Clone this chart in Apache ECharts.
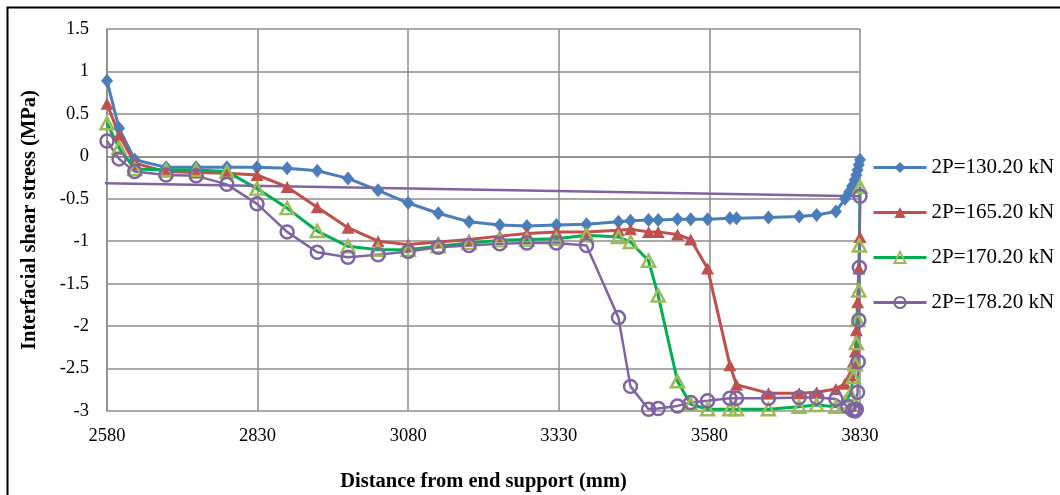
<!DOCTYPE html>
<html>
<head>
<meta charset="utf-8">
<script src="https://cdn.jsdelivr.net/npm/echarts@6/dist/echarts.min.js"></script>
<style>
html,body{margin:0;padding:0;background:#fff;}
#chart{width:1060px;height:495px;}
</style>
</head>
<body>
<div id="chart"></div>
<script>
// Shared node positions (mm) along the beam
const distance = [2580, 2600, 2626, 2678, 2728, 2779, 2829, 2879, 2929, 2980, 3030, 3080, 3130, 3181, 3232, 3277, 3326, 3376, 3429, 3449, 3479, 3495, 3527, 3549, 3577, 3614, 3625, 3678, 3729, 3758, 3790];

const p130 = [0.89, 0.33, -0.04, -0.13, -0.13, -0.13, -0.13, -0.14, -0.17, -0.26, -0.40, -0.55, -0.67, -0.77, -0.81, -0.82, -0.81, -0.80, -0.77, -0.76, -0.75, -0.75, -0.74, -0.74, -0.74, -0.73, -0.73, -0.72, -0.71, -0.69, -0.65];
const p165 = [0.62, 0.25, -0.08, -0.18, -0.19, -0.20, -0.22, -0.36, -0.60, -0.84, -1.00, -1.04, -1.01, -0.98, -0.94, -0.91, -0.89, -0.89, -0.87, -0.86, -0.89, -0.89, -0.92, -0.98, -1.32, -2.46, -2.69, -2.79, -2.79, -2.78, -2.74];
const p170 = [0.39, 0.10, -0.15, -0.16, -0.16, -0.18, -0.38, -0.61, -0.88, -1.06, -1.10, -1.10, -1.06, -1.02, -0.99, -0.98, -0.97, -0.93, -0.95, -1.01, -1.23, -1.64, -2.65, -2.92, -2.98, -2.98, -2.98, -2.98, -2.95, -2.93, -2.95];
const p178 = [0.18, -0.03, -0.18, -0.22, -0.23, -0.33, -0.56, -0.89, -1.13, -1.19, -1.16, -1.12, -1.07, -1.05, -1.03, -1.02, -1.02, -1.05, -1.90, -2.71, -2.98, -2.97, -2.94, -2.90, -2.88, -2.85, -2.85, -2.85, -2.84, -2.84, -2.86];

// Dense nodes near the loaded end
const end130x = [3805, 3812, 3817, 3821, 3824, 3826, 3828, 3830];
const end130y = [-0.50, -0.42, -0.35, -0.28, -0.22, -0.16, -0.10, -0.04];
const end165x = [3805, 3814, 3819, 3822, 3824, 3826, 3828, 3830];
const end165y = [-2.68, -2.58, -2.42, -2.30, -2.05, -1.72, -1.32, -0.95];
const end170x = [3805, 3814, 3819, 3822, 3824, 3826, 3828, 3829, 3830];
const end170y = [-2.90, -2.80, -2.60, -2.45, -2.20, -1.93, -1.58, -1.05, -0.36];
const end178x = [3810, 3818, 3822, 3824, 3826, 3827, 3828, 3829, 3830, 0];
const end178y = [-2.95, -2.99, -3.00, -2.98, -2.78, -2.42, -1.93, -1.31, -0.47, 0];

const seriesNames = ['2P=130.20 kN', '2P=165.20 kN', '2P=170.20 kN', '2P=178.20 kN'];
const xTicks = [2580, 2830, 3080, 3330, 3580, 3830];
const yTicks = [-3, -2.5, -2, -1.5, -1, -0.5, 0, 0.5, 1, 1.5];

function pairs(xs, ys, ex, ey) {
  const out = xs.map((x, i) => [x, ys[i]]);
  ex.forEach((x, i) => out.push([x, ey[i]]));
  return out;
}

const FONT = '"Liberation Serif", "Times New Roman", serif';
const chart = echarts.init(document.getElementById('chart'), null, {renderer: 'canvas'});

const gridColor = '#8c8c8c';

chart.setOption({
  animation: false,
  backgroundColor: '#ffffff',
  graphic: [{
    type: 'rect', silent: true, z: -1,
    shape: {x: 7.5, y: 7.5, width: 1070, height: 500},
    style: {fill: 'none', stroke: '#000', lineWidth: 2}
  }],
  grid: {left: 107, right: 200, top: 29, bottom: 84, containLabel: false, outerBoundsMode: 'none'},
  legend: {
    orient: 'vertical',
    left: 872, top: 157, padding: 0,
    itemWidth: 53, itemHeight: 14,
    itemGap: 24,
    lineStyle: {width: 3},
    textStyle: {fontFamily: FONT, fontSize: 21, color: '#000'},
    data: seriesNames
  },
  xAxis: {
    type: 'value', min: xTicks[0], max: xTicks[xTicks.length - 1], interval: 250,
    name: 'Distance from end support (mm)',
    nameLocation: 'middle', nameGap: 60,
    nameTextStyle: {fontFamily: FONT, fontSize: 20.5, fontWeight: 'bold', color: '#000'},
    axisLine: {show: true, lineStyle: {color: gridColor, width: 1.5}},
    axisTick: {show: false},
    axisLabel: {fontFamily: FONT, fontSize: 18.5, color: '#000', margin: 16,
      formatter: v => String(v)},
    splitLine: {show: true, lineStyle: {color: gridColor, width: 1.5}}
  },
  yAxis: {
    type: 'value', min: yTicks[0], max: yTicks[yTicks.length - 1], interval: 0.5,
    name: 'Interfacial shear stress (MPa)',
    nameLocation: 'middle', nameGap: 67, nameRotate: 90,
    nameTextStyle: {fontFamily: FONT, fontSize: 20.5, fontWeight: 'bold', color: '#000'},
    axisLine: {show: true, lineStyle: {color: gridColor, width: 1.5}},
    axisTick: {show: false},
    axisLabel: {fontFamily: FONT, fontSize: 18.5, color: '#000', margin: 18,
      formatter: v => String(v)},
    splitLine: {show: true, lineStyle: {color: gridColor, width: 1.5}}
  },
  series: [
    {
      name: seriesNames[0], type: 'line', data: pairs(distance, p130, end130x, end130y),
      symbol: 'diamond', symbolSize: [12, 14],
      lineStyle: {color: '#4A7EBB', width: 3},
      itemStyle: {color: '#4A7EBB'}
    },
    {
      name: seriesNames[1], type: 'line', data: pairs(distance, p165, end165x, end165y),
      symbol: 'triangle', symbolSize: [13, 12],
      lineStyle: {color: '#C0504D', width: 3},
      itemStyle: {color: '#C0504D'}
    },
    {
      name: seriesNames[2], type: 'line', data: pairs(distance, p170, end170x, end170y),
      symbol: 'triangle', symbolSize: [13, 12],
      lineStyle: {color: '#00B050', width: 3},
      itemStyle: {color: 'rgba(255,255,255,0)', borderColor: '#9BBB59', borderWidth: 2.5}
    },
    {
      name: seriesNames[3], type: 'line', data: pairs(distance, p178, end178x, end178y),
      symbol: 'circle', symbolSize: 13,
      lineStyle: {color: '#8064A2', width: 2.5},
      itemStyle: {color: 'rgba(255,255,255,0)', borderColor: '#8064A2', borderWidth: 2.5}
    }
  ]
});
</script>
</body>
</html>
